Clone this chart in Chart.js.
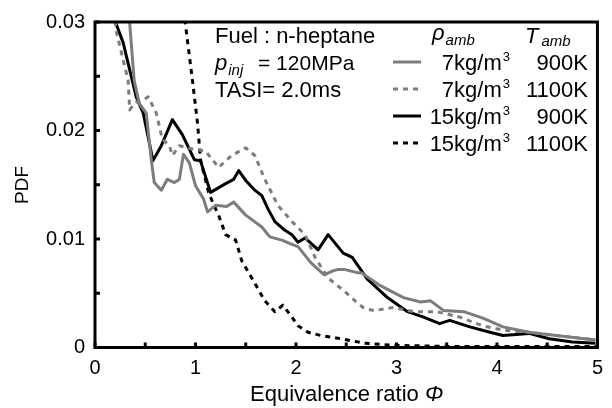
<!DOCTYPE html>
<html><head><meta charset="utf-8">
<script src="https://cdn.jsdelivr.net/npm/chart.js@4"></script>
<style>html,body{margin:0;padding:0;background:#fff}</style>
</head><body>
<canvas id="c" width="612" height="408"></canvas>
<script>
// Series: 7 kg/m3, 900 K (gray solid)
const x7_900 = [0.32,0.345,0.39,0.44,0.51,0.56,0.59,0.66,0.72,0.79,0.84,0.88,0.94,1.00,1.08,1.12,1.20,1.31,1.38,1.50,1.66,1.74,1.86,1.96,2.02,2.15,2.28,2.35,2.42,2.48,2.61,2.65,2.84,3.07,3.24,3.34,3.47,3.67,3.86,4.06,4.32,4.59,4.98];
const y7_900 = [0.034,0.0299,0.0246,0.0225,0.0216,0.0173,0.0152,0.0145,0.0155,0.0152,0.0155,0.0178,0.0170,0.0149,0.0137,0.0125,0.0131,0.0130,0.0134,0.0122,0.0111,0.0102,0.0099,0.0095,0.0093,0.0078,0.0067,0.0070,0.0072,0.0072,0.0069,0.0069,0.0057,0.0046,0.0042,0.0043,0.0034,0.0033,0.0027,0.0019,0.0014,0.0011,0.0007];
// Series: 7 kg/m3, 1100 K (gray dotted)
const x7_1100 = [0.19,0.21,0.33,0.345,0.40,0.48,0.53,0.61,0.67,0.74,0.77,0.84,0.97,1.10,1.23,1.36,1.50,1.59,1.69,1.82,1.96,2.09,2.19,2.32,2.48,2.60,2.68,2.78,2.97,3.17,3.40,3.63,3.86,4.06,4.32,4.59,4.98];
const y7_1100 = [0.031,0.0292,0.0246,0.0219,0.0226,0.0228,0.0231,0.0216,0.0192,0.0186,0.0177,0.0186,0.0183,0.0181,0.0166,0.0177,0.0184,0.0177,0.0155,0.0131,0.0116,0.0104,0.0083,0.0064,0.0052,0.0042,0.0036,0.0034,0.0037,0.0033,0.0033,0.0028,0.0020,0.0016,0.0014,0.0011,0.0007];
// Series: 15 kg/m3, 900 K (black solid)
const x15_900 = [0.15,0.207,0.28,0.41,0.48,0.56,0.575,0.66,0.77,0.87,0.99,1.05,1.15,1.30,1.38,1.43,1.50,1.59,1.66,1.72,1.79,1.89,1.96,2.02,2.09,2.22,2.32,2.47,2.56,2.71,2.91,3.11,3.27,3.43,3.53,3.73,3.93,4.06,4.32,4.52,4.75,4.98];
const y15_900 = [0.034,0.0299,0.0281,0.0231,0.0216,0.0180,0.0172,0.0186,0.0210,0.0196,0.0173,0.0172,0.0143,0.0151,0.0155,0.0163,0.0154,0.0145,0.0140,0.0128,0.0116,0.0108,0.0104,0.0097,0.0101,0.0090,0.0104,0.0087,0.0083,0.0063,0.0046,0.0033,0.0028,0.0022,0.0025,0.0019,0.0014,0.0011,0.0013,0.0008,0.0005,0.0004];
// Series: 15 kg/m3, 1100 K (black dotted)
const x15_1100 = [0.88,0.90,0.97,1.02,1.05,1.13,1.17,1.23,1.30,1.40,1.46,1.56,1.69,1.79,1.87,1.96,2.02,2.12,2.25,2.45,2.68,2.97,3.5,4.0,4.5,5.0];
const y15_1100 = [0.033,0.0298,0.0246,0.0207,0.0173,0.0143,0.0134,0.0122,0.0104,0.0099,0.0080,0.0064,0.0043,0.0033,0.0039,0.0028,0.0020,0.0014,0.0011,0.0008,0.0004,0.0002,0.0001,0.0001,0.0001,0.0001];

const xTickLabels = [0,1,2,3,4,5];
const yTickLabels = [0,0.01,0.02,0.03];
const densities = ['7kg/m','7kg/m','15kg/m','15kg/m'];
const temps = ['900K','1100K','900K','1100K'];
const infoLines = ['Fuel : n-heptane','= 120MPa','TASI= 2.0ms'];

const GRAY = '#7d7d7d', BLACK = '#000000';
const styles = [
  {color:GRAY, dash:[]},
  {color:GRAY, dash:[5,5]},
  {color:BLACK, dash:[]},
  {color:BLACK, dash:[5,5]}
];
const pts = (xs, ys) => xs.map((v,i)=>({x:v, y:ys[i]}));
const seriesData = [pts(x7_900,y7_900), pts(x7_1100,y7_1100), pts(x15_900,y15_900), pts(x15_1100,y15_1100)];

const FONT = '"Liberation Sans", Arial, sans-serif';

function runs(ctx, x, y, parts){
  let cx = x;
  parts.forEach(p=>{
    if (p.x !== undefined) cx = p.x;
    ctx.font = p.f; ctx.fillText(p.t, cx, y + (p.dy||0)); cx += ctx.measureText(p.t).width + (p.gap||0);
  });
}

const deco = {
  id:'deco',
  afterDatasetsDraw(chart){
    const {ctx, chartArea:a, scales:{x,y}} = chart;
    ctx.save();
    ctx.strokeStyle = '#000'; ctx.lineWidth = 3; ctx.setLineDash([]);
    ctx.strokeRect(a.left, a.top, a.right-a.left, a.bottom-a.top);
    x.ticks.forEach(t=>{const px=x.getPixelForValue(t.value); ctx.beginPath(); ctx.moveTo(px,a.bottom); ctx.lineTo(px,a.bottom-5); ctx.stroke();});
    y.ticks.forEach(t=>{const py=y.getPixelForValue(t.value); ctx.beginPath(); ctx.moveTo(a.left,py); ctx.lineTo(a.left+5,py); ctx.stroke();});

    ctx.fillStyle = '#000'; ctx.textBaseline = 'alphabetic'; ctx.textAlign = 'left';
    // info block
    ctx.font = '22px ' + FONT; ctx.fillText(infoLines[0], 215, 43);
    runs(ctx, 215, 70, [{t:'p', f:'italic 22px '+FONT, gap:1},{t:'inj', f:'italic 15px '+FONT, dy:5},{t:infoLines[1], f:'21px '+FONT, x:258}]);
    ctx.font = '22px ' + FONT; ctx.fillText(infoLines[2], 215, 97);

    // legend headers
    runs(ctx, 432, 40, [{t:'ρ', f:'italic 22px '+FONT, gap:1},{t:'amb', f:'italic 15px '+FONT, dy:5}]);
    runs(ctx, 525, 43, [{t:'T', f:'italic 22px '+FONT, gap:3},{t:'amb', f:'italic 15px '+FONT, dy:3}]);

    // legend rows
    const base = [70,97,124,151];
    base.forEach((b,i)=>{
      const st = styles[i];
      ctx.strokeStyle = st.color; ctx.lineWidth = 3; ctx.setLineDash(st.dash);
      ctx.beginPath(); ctx.moveTo(393, b-8); ctx.lineTo(421, b-8); ctx.stroke();
      ctx.setLineDash([]);
      ctx.fillStyle = '#000'; ctx.textAlign = 'right';
      ctx.font = '13px ' + FONT; ctx.fillText('3', 510, b-9);
      const sw = ctx.measureText('3').width;
      ctx.font = '22px ' + FONT; ctx.fillText(densities[i], 510 - sw - 1, b);
      ctx.fillText(temps[i], 588, b);
      ctx.textAlign = 'left';
    });

    // axis titles
    runs(ctx, 250, 401, [{t:'Equivalence ratio ', f:'22px '+FONT},{t:'Φ', f:'italic 22px '+FONT}]);
    ctx.save();
    ctx.translate(28, 185); ctx.rotate(-Math.PI/2);
    ctx.textAlign = 'center'; ctx.font = '19px ' + FONT; ctx.fillText('PDF', 0, 0);
    ctx.restore();
    ctx.restore();
  }
};

new Chart(document.getElementById('c'), {
  type:'line',
  data:{
    datasets: seriesData.map((d,i)=>({
      data:d, borderColor:styles[i].color, borderDash:styles[i].dash, borderWidth:3,
      pointRadius:0, tension:0, fill:false, borderJoinStyle:'round'
    }))
  },
  options:{
    responsive:false, animation:false, devicePixelRatio:1,
    layout:{padding:{left:0,right:10,top:17,bottom:0}},
    plugins:{legend:{display:false}, tooltip:{enabled:false}},
    scales:{
      x:{type:'linear', min:0, max:5,
        grid:{display:false, drawTicks:false}, border:{display:false},
        ticks:{stepSize:0.5, autoSkip:false, maxRotation:0, padding:9, color:'#000', font:{family:FONT, size:20},
          callback:v=> xTickLabels.includes(v) ? String(v) : ''},
        afterFit:s=>{s.height = 60.5;}
      },
      y:{type:'linear', min:0, max:0.03,
        grid:{display:false, drawTicks:false}, border:{display:false},
        ticks:{stepSize:0.005, autoSkip:false, padding:10, color:'#000', font:{family:FONT, size:20},
          callback:v=>{const r=Math.round(v*1000)/1000; return yTickLabels.includes(r) ? String(r) : '';}},
        afterFit:s=>{s.width = 95;}
      }
    }
  },
  plugins:[deco]
});
</script>
</body></html>
